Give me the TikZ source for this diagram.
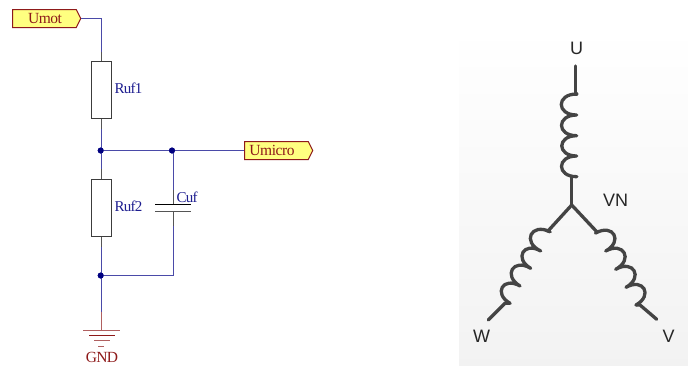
\documentclass[tikz,border=0pt]{standalone}
\usepackage{fontspec}
\setmainfont{Liberation Serif}
\setsansfont{Liberation Sans}
\usetikzlibrary{calc,shapes.symbols}
\definecolor{wirec}{HTML}{4A4AA8}
\definecolor{pinc}{HTML}{555555}
\definecolor{dotc}{HTML}{000080}
\definecolor{redc}{HTML}{8E1A1A}
\definecolor{gndw}{HTML}{B06060}
\definecolor{portf}{HTML}{FFFF80}
\definecolor{coilc}{HTML}{444444}
\tikzset{
  wire/.style={draw=wirec,line width=1pt},
  pinw/.style={draw=pinc,line width=1pt},
  res/.style={draw=pinc!70!black,fill=white,line width=1pt,minimum width=20pt,minimum height=57pt,inner sep=0pt},
  port/.style={signal,signal to=east,signal pointer angle=128,draw=redc,fill=portf,line width=1pt,text=redc,
     minimum width=68pt,minimum height=18pt,inner sep=0pt,font=\fontsize{15.5}{15.5}\selectfont\addfontfeature{LetterSpace=-3}},
  junct/.style={circle,fill=dotc,inner sep=0pt,minimum size=6pt},
  reflabel/.style={text=wirec!40!dotc,inner sep=0pt,anchor=west,font=\fontsize{15}{15}\selectfont\addfontfeature{LetterSpace=-5}},
  gndbar/.style={draw=gndw,line width=1pt},
  coil/.style={draw=coilc,line width=3.3pt,line cap=round},
  phase/.style={text=black!85,inner sep=0pt,font=\sffamily\fontsize{18}{18}\selectfont},
}
\newcommand{\bumpL}[2]{ (#1) .. controls ($(#1)!0.98!-90:(#2)$) and ($(#2)!0.98!90:(#1)$) .. (#2) }
\newcommand{\bumpR}[2]{ (#1) .. controls ($(#1)!0.98!90:(#2)$) and ($(#2)!0.98!-90:(#1)$) .. (#2) }
\begin{document}
\begin{tikzpicture}[x=1pt,y=-1pt]
\useasboundingbox (0,0) rectangle (688,365);
\fill[white] (0,0) rectangle (688,365);
\shade[top color=white,bottom color=black!5] (459,27) rectangle (688,365);

% schematic
\node[port] (umot) at (44.5,18.5) {\hspace{1pt}Umot};
\node[port] (umicro) at (276.5,150.5) {Umicro\rule{9pt}{0pt}};
\node[res] (r1) at (101.5,90) {};
\node[res] (r2) at (101.5,208) {};
\node[junct] (j1) at (100.7,150.5) {};
\node[junct] (j2) at (172,150.5) {};
\node[junct] (j3) at (100.7,275.5) {};
\coordinate (c1) at (173.5,204.5);
\coordinate (c2) at (173.5,211.5);
\coordinate (corner) at (173.5,275.5);
\coordinate (top) at (101.5,18.5);
\coordinate (gnd) at (101.5,330);

\draw[wire] (umot.east) -- (top) -- (101.5,52);
\draw[pinw] (101.5,52) -- (r1.north);
\draw[pinw] (r1.south) -- (101.5,129);
\draw[wire] (101.5,129) -- (101.5,169);
\draw[pinw] (101.5,169) -- (r2.north);
\draw[pinw] (r2.south) -- (101.5,247);
\draw[wire] (101.5,247) -- (101.5,312);
\draw[draw=gndw,line width=1pt] (101.5,312) -- (gnd);
\draw[wire] (j1) -- (j2) -- (umicro.west);
\draw[wire] (173.5,150.5) -- (173.5,190);
\draw[pinw] (173.5,190) -- (c1);
\draw[pinw] (c2) -- (173.5,226);
\draw[wire] (173.5,226) -- (corner) -- (j3);
\draw[black,line width=1pt] (155,204.5) -- (191,204.5);
\draw[pinc,line width=1pt] (155,211.5) -- (191,211.5);
\node[junct] at (j1) {};
\node[junct] at (j2) {};
\node[junct] at (j3) {};
\draw[gndbar] (83,330.5) -- (120,330.5);
\draw[draw=redc,line width=1pt] (89,335.5) -- (115,335.5);
\draw[gndbar] (94,340.5) -- (110,340.5);
\draw[gndbar] (98,346.5) -- (104,346.5);

\node[reflabel] (l1) at (114.5,88) {Ruf1};
\node[reflabel] (l2) at (114.5,206) {Ruf2};
\node[reflabel] (l3) at (176.5,197) {Cuf};
\node[text=redc,inner sep=0pt,font=\fontsize{15.5}{15.5}\selectfont\addfontfeature{LetterSpace=-4}] (gl) at (102,357) {GND};

% motor
\coordinate (n) at (571.7,205);
\node[phase] (u) at (576.5,48) {U};
\node[phase] (vn) at (615.5,200.5) {VN};
\node[phase] (w) at (481.5,336.5) {W};
\node[phase] (v) at (668.5,336.5) {V};
\coordinate (ut) at (575.5,66);
\coordinate (wt) at (488.3,320);
\coordinate (vt) at (656.7,319.3);

\draw[coil] (ut) -- (575.5,94) -- (576.7,94);
\draw[coil] \bumpL{576.7,94}{576.7,115} \bumpL{576.7,115}{576.7,135.7} \bumpL{576.7,135.7}{576.7,156} \bumpL{576.7,156}{576.7,176.7};
\draw[coil] (576.7,176.7) -- (571.7,176.7) -- (n);
\draw[coil] (n) -- (548,231) -- (550,231.7);
\draw[coil] \bumpL{550,231.7}{540.7,251} \bumpL{540.7,251}{530.7,268.3} \bumpL{530.7,268.3}{520,286} \bumpL{520,286}{510,303.3};
\draw[coil] (510,303.3) -- (505,303.3) -- (wt);
\draw[coil] (n) -- (596.7,231.7) -- (595.7,233);
\draw[coil] \bumpR{595.7,233}{605.7,251} \bumpR{605.7,251}{615.7,269.3} \bumpR{615.7,269.3}{626,287.3} \bumpR{626,287.3}{636,305};
\draw[coil] (636,305) -- (640,305) -- (vt);
\end{tikzpicture}
\end{document}
